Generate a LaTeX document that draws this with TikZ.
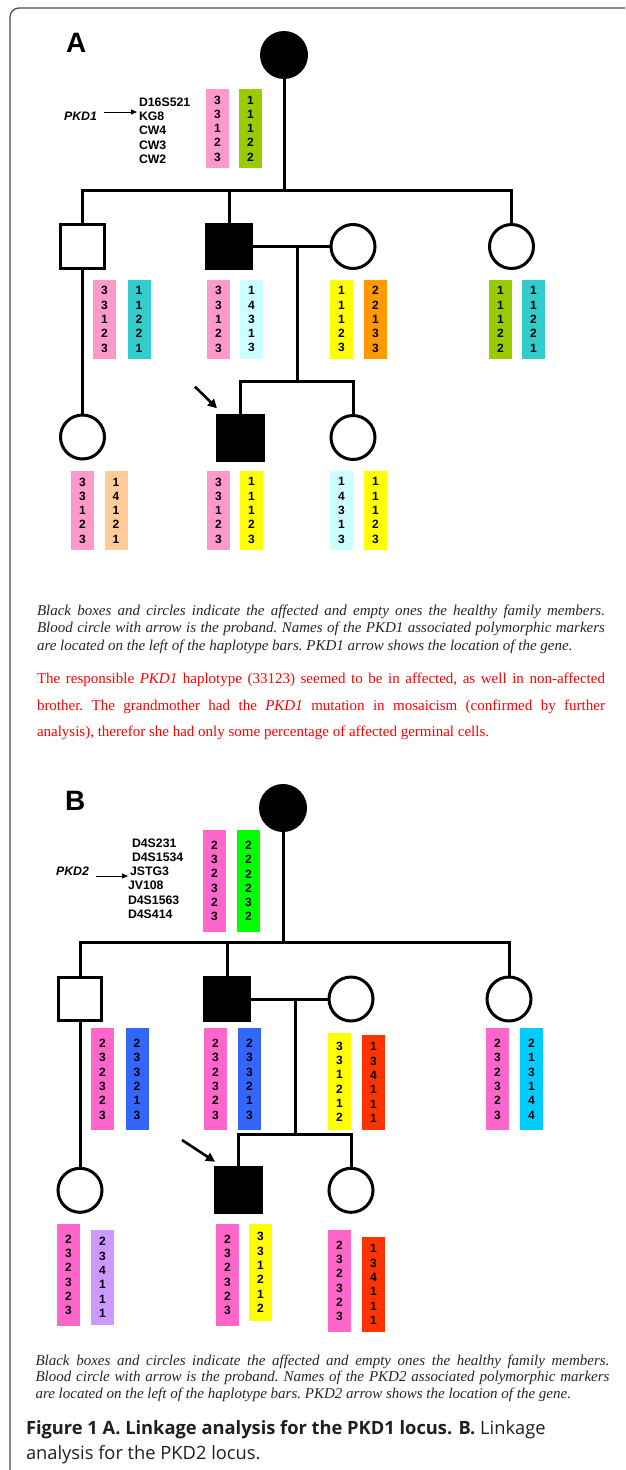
\documentclass[tikz,border=0pt]{standalone}
\usepackage{fontspec}
\setmainfont{Liberation Serif}
\newfontfamily\hvfont{Liberation Sans}
\newfontfamily\capfont{Open Sans}
\usetikzlibrary{arrows.meta}

% haplotype colours
\definecolor{pinkA}{HTML}{FF99CC}
\definecolor{greenA}{HTML}{99CC00}
\definecolor{tealA}{HTML}{33CCCC}
\definecolor{iceA}{HTML}{CCFFFF}
\definecolor{yellowH}{HTML}{FFFF00}
\definecolor{orangeA}{HTML}{FF9900}
\definecolor{peachA}{HTML}{FFCC99}
\definecolor{pinkB}{HTML}{FF66CC}
\definecolor{greenB}{HTML}{00FF00}
\definecolor{blueB}{HTML}{3366FF}
\definecolor{redB}{HTML}{FF3300}
\definecolor{cyanB}{HTML}{00CCFF}
\definecolor{lilacB}{HTML}{CC99FF}

% paragraph settings for the justified notes
\newcommand\loosepar{\frenchspacing\tolerance=10000\hyphenpenalty=10000\relax}

\begin{document}
\begin{tikzpicture}[x=1pt, y=-1pt,
  every node/.style={inner sep=0pt, outer sep=0pt},
  kin/.style={line width=3pt},
  male/.style={rectangle, draw, line width=3pt, fill=white, minimum width=44, minimum height=44},
  affmale/.style={rectangle, fill=black, minimum width=48, minimum height=47},
  female/.style={circle, draw, line width=3pt, fill=white, minimum size=44},
  afffemale/.style={circle, fill=black, minimum size=48},
  hap/.style={rectangle, fill=#1, minimum width=23, text width=23, align=center,
              font=\hvfont\bfseries\fontsize{12}{14.3}\selectfont},
  marker/.style={font=\hvfont\bfseries\fontsize{12.3}{#1}\selectfont, align=left, anchor=west},
  gene/.style={font=\hvfont\bfseries\itshape\fontsize{12.3}{14}\selectfont},
  genearrow/.style={line width=1pt, -{Triangle[length=6pt,width=5pt]}},
  probandarrow/.style={line width=2.6pt, -{Triangle[length=9pt,width=9pt]}},
  panel/.style={font=\hvfont\bfseries\fontsize{28}{28}\selectfont, anchor=base west},
  textblock/.style={text width=#1, align=justify, anchor=north west},
  legend/.style={font=\itshape\fontsize{15}{#1}\selectfont, text=black!85},
  remark/.style={font=\fontsize{15}{#1}\selectfont, text=red},
  figcap/.style={font=\capfont\fontsize{18.3}{22}\selectfont, anchor=base west, text=black!88}
]
\useasboundingbox (0,0) rectangle (625,1470);
\fill[white] (0,0) rectangle (625,1470);

% frame with rounded corner
\draw[line width=1.3pt, black!70, rounded corners=9pt] (625,8) -- (10,8) -- (10,1470);

% ================= Panel A =================
\node[panel] (labA) at (66,52) {A};

\node[afffemale] (gmA) at (284,55) {};
\node[male] (sonA1) at (82.5,246.5) {};
\node[affmale] (sonA2) at (229,246.5) {};
\node[female] (wifeA) at (353,246.5) {};
\node[female] (dauA) at (511.5,246.5) {};
\node[female] (gdauA) at (82.5,437) {};
\node[affmale, minimum width=49, minimum height=48] (probA) at (240.5,437.5) {};
\node[female] (sisA) at (353,437.5) {};

\coordinate (sibA) at (284,190);
\coordinate (dA) at (297,246.5);
\coordinate (kidsA) at (297,381.7);
\coordinate (arrA) at (195,386.7);
\coordinate (tipA) at (217,408.3);

\draw[kin] (gmA.south) -- (sibA);
\draw[kin] (sonA1.north) |- (sibA) -| (dauA.north);
\draw[kin] (sonA2.north) -- (sonA2.north |- sibA);
\draw[kin] (sonA2.east) -- (wifeA.west);
\draw[kin] (dA) -- (kidsA);
\draw[kin] (probA.north) |- (kidsA) -| (sisA.north);
\draw[kin] (sonA1.south) -- (gdauA.north);
\draw[probandarrow] (arrA) -- (tipA);

% markers of the PKD1 region
\node[marker=14.3] (mkA) at (139,130.5) {D16S521\\KG8\\CW4\\CW3\\CW2};
\node[gene] (pkd1) at (80.5,116) {PKD1};
\coordinate (pkd1tip) at (137,112);
\draw[genearrow] ([xshift=7pt,yshift=4pt]pkd1.east) -- (pkd1tip);

% haplotypes, grandmother
\node[hap=pinkA, minimum height=79] (hgA1) at (217.5,128.5) {3\\3\\1\\2\\3};
\node[hap=greenA, minimum height=79] (hgA2) at (250.5,128.5) {1\\1\\1\\2\\2};

% haplotypes, second generation
\node[hap=pinkA, minimum height=79] (hA1a) at (104.5,319.3) {3\\3\\1\\2\\3};
\node[hap=tealA, minimum height=79] (hA1b) at (139,319.3) {1\\1\\2\\2\\1};
\node[hap=pinkA, minimum height=79] (hA2a) at (218.5,319.3) {3\\3\\1\\2\\3};
\node[hap=iceA, minimum height=79] (hA2b) at (251.5,319.3) {1\\4\\3\\1\\3};
\node[hap=yellowH, minimum height=79] (hA3a) at (341.5,319.3) {1\\1\\1\\2\\3};
\node[hap=orangeA, minimum height=79] (hA3b) at (375.5,319.3) {2\\2\\1\\3\\3};
\node[hap=greenA, minimum height=79] (hA4a) at (500.5,319.3) {1\\1\\1\\2\\2};
\node[hap=tealA, minimum height=79] (hA4b) at (533.5,319.3) {1\\1\\2\\2\\1};

% haplotypes, third generation
\node[hap=pinkA, minimum height=79] (hA5a) at (82.5,510.5) {3\\3\\1\\2\\3};
\node[hap=peachA, minimum height=79] (hA5b) at (116,510.5) {1\\4\\1\\2\\1};
\node[hap=pinkA, minimum height=79] (hA6a) at (218.5,510.5) {3\\3\\1\\2\\3};
\node[hap=yellowH, minimum height=79] (hA6b) at (251.5,510.5) {1\\1\\1\\2\\3};
\node[hap=iceA, minimum height=79] (hA7a) at (341.5,510.5) {1\\4\\3\\1\\3};
\node[hap=yellowH, minimum height=79] (hA7b) at (375.5,510.5) {1\\1\\1\\2\\3};

% legend and remark
\node[textblock=568, legend=17.5] (legA) at (37,604.5) {\loosepar Black boxes and circles indicate the affected and empty ones the healthy family members.\linebreak Blood circle with arrow is the proband. Names of the PKD1 associated polymorphic markers\linebreak are located on the left of the haplotype bars. PKD1 arrow shows the location of the gene.};
\node[textblock=568, remark=26.7] (remA) at (37,672.8) {\loosepar The responsible \textit{PKD1} haplotype (33123) seemed to be in affected, as well in non-affected\linebreak brother. The grandmother had the \textit{PKD1} mutation in mosaicism (confirmed by further\linebreak analysis), therefor she had only some percentage of affected germinal cells.};

% ================= Panel B =================
\node[panel] (labB) at (65,810) {B};

\node[afffemale] (gmB) at (283,808) {};
\node[male, minimum width=43, minimum height=43] (sonB1) at (80,999) {};
\node[affmale, minimum height=46] (sonB2) at (227,999) {};
\node[female] (wifeB) at (351,999) {};
\node[female] (dauB) at (509,999) {};
\node[female] (gdauB) at (80,1190.3) {};
\node[affmale, minimum width=49, minimum height=48] (probB) at (238.5,1190) {};
\node[female] (sisB) at (351,1190.3) {};

\coordinate (sibB) at (283,942.7);
\coordinate (dB) at (295,999);
\coordinate (kidsB) at (295,1134.3);
\coordinate (arrB) at (182,1140);
\coordinate (tipB) at (215,1161.7);

\draw[kin] (gmB.south) -- (sibB);
\draw[kin] (sonB1.north) |- (sibB) -| (dauB.north);
\draw[kin] (sonB2.north) -- (sonB2.north |- sibB);
\draw[kin] (sonB2.east) -- (wifeB.west);
\draw[kin] (dB) -- (kidsB);
\draw[kin] (probB.north) |- (kidsB) -| (sisB.north);
\draw[kin] (sonB1.south) -- (gdauB.north);
\draw[probandarrow] (arrB) -- (tipB);

% markers of the PKD2 region
\node[marker=14.2] (mkB) at (128,878.5) {\hspace*{4pt}D4S231\\\hspace*{4pt}D4S1534\\\hspace*{2pt}JSTG3\\JV108\\D4S1563\\D4S414};
\node[gene] (pkd2) at (72.5,871) {PKD2};
\coordinate (pkd2tip) at (128,876);
\draw[genearrow] ([xshift=7pt,yshift=-5pt]pkd2.east) -- (pkd2tip);

% haplotypes, grandmother
\node[hap=pinkB, minimum height=102] (hgB1) at (214.5,881) {2\\3\\2\\3\\2\\3};
\node[hap=greenB, minimum height=102] (hgB2) at (248.5,881) {2\\2\\2\\2\\3\\2};

% haplotypes, second generation
\node[hap=pinkB, minimum height=102] (hB1a) at (102.5,1079.2) {2\\3\\2\\3\\2\\3};
\node[hap=blueB, minimum height=102] (hB1b) at (137,1079.2) {2\\3\\3\\2\\1\\3};
\node[hap=pinkB, minimum height=102] (hB2a) at (215.5,1079.2) {2\\3\\2\\3\\2\\3};
\node[hap=blueB, minimum height=102] (hB2b) at (249.5,1079.2) {2\\3\\3\\2\\1\\3};
\node[hap=yellowH, minimum height=97] (hB3a) at (339.5,1081.7) {3\\3\\1\\2\\1\\2};
\node[hap=redB, minimum height=95] (hB3b) at (373.5,1082.5) {1\\3\\4\\1\\1\\1};
\node[hap=pinkB, minimum height=102] (hB4a) at (497.5,1079.2) {2\\3\\2\\3\\2\\3};
\node[hap=cyanB, minimum height=102] (hB4b) at (531.5,1079.2) {2\\1\\3\\1\\4\\4};

% haplotypes, third generation
\node[hap=pinkB, minimum height=102] (hB5a) at (68.5,1275) {2\\3\\2\\3\\2\\3};
\node[hap=lilacB, minimum height=95] (hB5b) at (102.5,1277.5) {2\\3\\4\\1\\1\\1};
\node[hap=pinkB, minimum height=102] (hB6a) at (227.5,1275) {2\\3\\2\\3\\2\\3};
\node[hap=yellowH, minimum height=97] (hB6b) at (260.5,1272.5) {3\\3\\1\\2\\1\\2};
\node[hap=pinkB, minimum height=102] (hB7a) at (339.5,1280.8) {2\\3\\2\\3\\2\\3};
\node[hap=redB, minimum height=94.4] (hB7b) at (373.5,1284.5) {1\\3\\4\\1\\1\\1};

% legend
\node[textblock=574, legend=16.5] (legB) at (35.5,1354.5) {\loosepar Black boxes and circles indicate the affected and empty ones the healthy family members.\linebreak Blood circle with arrow is the proband. Names of the PKD2 associated polymorphic markers\linebreak are located on the left of the haplotype bars. PKD2 arrow shows the location of the gene.};

% figure caption
\node[figcap] (cap1) at (26,1434) {\textbf{Figure 1 A. Linkage analysis for the PKD1 locus. B.} Linkage};
\node[figcap] (cap2) at (26,1459.3) {analysis for the PKD2 locus.};
\end{tikzpicture}
\end{document}
